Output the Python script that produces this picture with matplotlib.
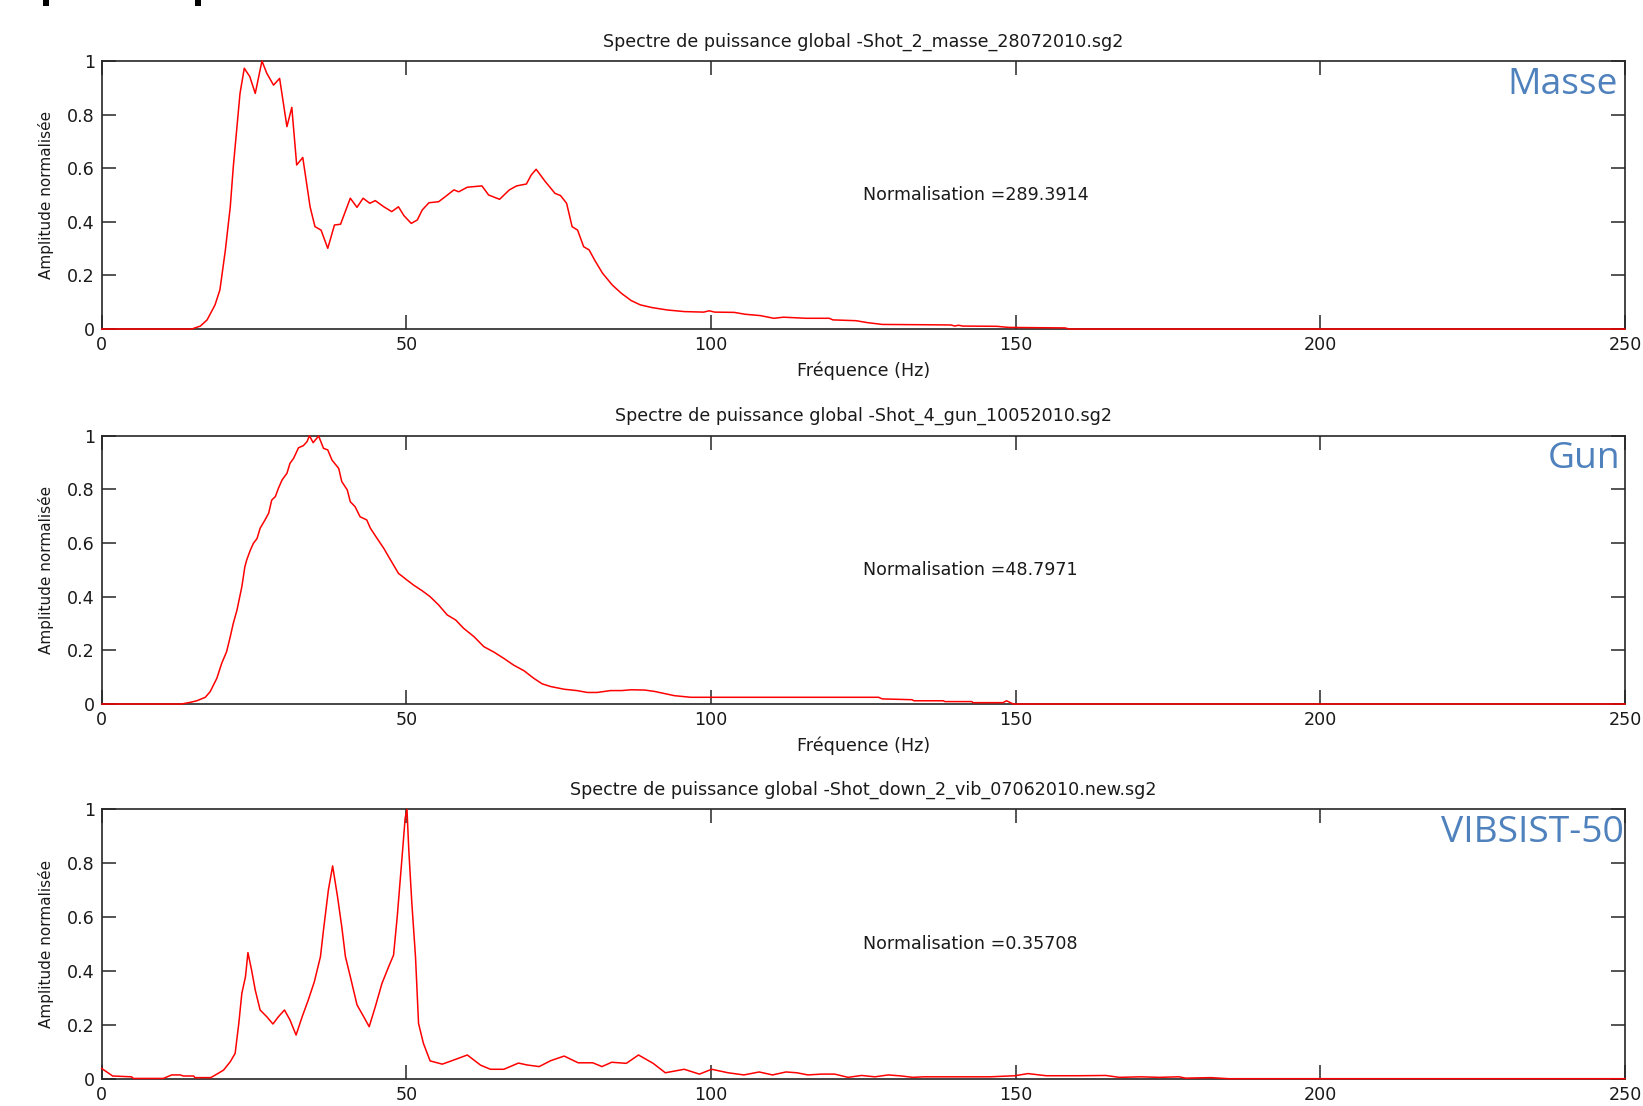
import matplotlib
matplotlib.use("Agg")
import matplotlib.pyplot as plt
from matplotlib.patches import Rectangle

# ---------------- data ----------------
freq_masse = [0, 14.8, 16.2, 17.3, 18.6, 19.4, 20.3, 21.1, 21.6, 22.2, 22.7, 23.4, 24.3, 25.2, 26.3, 27.1,
              28.2, 29.2, 30.4, 31.2, 32.0, 33.0, 34.2, 35.0, 36.0, 37.1, 38.2, 39.2, 40.8, 41.9, 42.9, 44.0,
              44.9, 46.3, 47.6, 48.7, 49.6, 50.8, 51.8, 52.6, 53.7, 55.3, 56.4, 57.8, 58.6, 60.0, 62.4, 63.5,
              65.3, 66.9, 68.1, 69.7, 70.5, 71.3, 72.8, 74.4, 75.3, 76.3, 77.2, 78.1, 79.1, 80.0, 80.9, 82.2,
              83.8, 85.3, 86.9, 88.4, 90.3, 92.8, 95.6, 98.8, 99.7, 100.6, 103.8, 105.6, 108.1, 110.3, 111.9,
              115.6, 119.4, 120.0, 123.8, 125.6, 128.1, 134.4, 139.4, 140.0, 140.6, 141.3, 146.9, 148.8,
              153.1, 158.1, 158.8, 250]
amp_masse = [0, 0, 0.011, 0.034, 0.09, 0.146, 0.295, 0.456, 0.606, 0.755, 0.879, 0.973, 0.942, 0.879, 1.0, 0.954,
             0.910, 0.935, 0.755, 0.827, 0.612, 0.640, 0.456, 0.382, 0.369, 0.301, 0.388, 0.391, 0.488, 0.454, 0.488, 0.469,
             0.479, 0.456, 0.438, 0.456, 0.423, 0.394, 0.407, 0.444, 0.471, 0.475, 0.494, 0.519, 0.512, 0.529, 0.534, 0.500,
             0.484, 0.519, 0.534, 0.541, 0.575, 0.596, 0.550, 0.506, 0.498, 0.469, 0.382, 0.369, 0.307, 0.295, 0.257, 0.208,
             0.164, 0.133, 0.106, 0.090, 0.080, 0.071, 0.065, 0.063, 0.068, 0.063, 0.062, 0.055, 0.050, 0.040, 0.044,
             0.040, 0.040, 0.034, 0.031, 0.024, 0.017, 0.016, 0.015, 0.011, 0.014, 0.011, 0.010, 0.006,
             0.005, 0.004, 0.0, 0.0]

freq_gun = [0, 13.1, 14.5, 15.6, 17.0, 17.8, 18.9, 19.7, 20.5, 21.1, 21.6, 22.2, 23.0, 23.5, 23.8, 24.4, 24.9,
            25.5, 26.0, 26.8, 27.4, 27.9, 28.5, 29.0, 29.6, 30.4, 30.9, 31.5, 32.3, 33.1, 33.7, 34.1, 34.7, 35.6,
            36.4, 37.1, 37.8, 38.9, 39.4, 40.3, 40.8, 41.6, 42.4, 43.5, 44.1, 45.2, 46.3, 47.4, 48.7, 50.1, 51.2,
            52.6, 53.9, 55.3, 56.7, 58.1, 59.4, 61.1, 62.7, 64.4, 66.0, 67.6, 69.3, 70.9, 72.3, 73.7, 75.9, 78.0,
            79.7, 81.3, 83.5, 85.3, 86.9, 89.1, 90.7, 94.0, 96.7, 100.0, 114.7, 127.5, 128.1, 133.0, 133.3, 138.1,
            138.4, 142.8, 143.0, 147.9, 148.5, 149.6, 250]
amp_gun = [0, 0, 0.006, 0.012, 0.025, 0.046, 0.096, 0.152, 0.195, 0.251, 0.301, 0.350, 0.437, 0.512, 0.537, 0.574, 0.599,
           0.617, 0.655, 0.686, 0.711, 0.760, 0.773, 0.804, 0.835, 0.860, 0.897, 0.916, 0.955, 0.963, 0.978, 1.0, 0.974, 0.999,
           0.953, 0.947, 0.909, 0.878, 0.829, 0.798, 0.754, 0.735, 0.698, 0.686, 0.655, 0.617, 0.580, 0.537, 0.487, 0.462, 0.443,
           0.422, 0.400, 0.369, 0.332, 0.313, 0.282, 0.251, 0.214, 0.193, 0.170, 0.145, 0.124, 0.096, 0.075, 0.065, 0.055, 0.050,
           0.043, 0.043, 0.050, 0.050, 0.053, 0.052, 0.047, 0.031, 0.025, 0.025, 0.025, 0.025, 0.019, 0.016, 0.012, 0.012,
           0.009, 0.009, 0.005, 0.005, 0.012, 0.0, 0.0]

freq_vib = [0, 1.8, 4.9, 5.2, 10.1, 11.5, 12.9, 13.4, 15.1, 15.3, 17.9, 18.9, 20.0, 21.1, 21.9, 22.5, 23.0, 23.6,
            24.0, 24.6, 25.2, 26.0, 27.1, 28.1, 29.0, 30.0, 30.9, 31.9, 32.9, 33.9, 34.9, 35.9, 36.4, 37.2, 37.9,
            38.7, 39.4, 40.0, 40.8, 41.9, 43.0, 43.9, 44.9, 46.0, 47.1, 47.9, 48.5, 49.3, 49.8, 50.1, 50.4, 50.9,
            51.5, 52.0, 52.8, 53.9, 55.9, 58.1, 60.0, 62.2, 63.8, 66.0, 68.4, 69.8, 71.8, 73.7, 75.9, 78.2, 80.6,
            82.1, 83.7, 86.1, 88.1, 90.5, 92.5, 95.6, 98.1, 100.1, 102.8, 105.4, 107.9, 110.1, 112.3, 114.1, 115.9,
            118.1, 120.3, 122.5, 124.7, 126.9, 129.1, 131.3, 133.1, 134.9, 145.8, 149.9, 152.0, 155.0, 160.4, 164.8,
            167.0, 170.6, 173.5, 176.8, 177.9, 182.0, 185.0, 250]
amp_vib = [0.038, 0.010, 0.007, 0.001, 0.001, 0.014, 0.014, 0.010, 0.010, 0.004, 0.004, 0.017, 0.032, 0.063, 0.094, 0.205, 0.317, 0.379,
           0.468, 0.403, 0.329, 0.255, 0.230, 0.203, 0.230, 0.255, 0.218, 0.162, 0.230, 0.292, 0.360, 0.453, 0.552, 0.700, 0.790,
           0.676, 0.564, 0.453, 0.379, 0.274, 0.230, 0.193, 0.267, 0.354, 0.416, 0.459, 0.601, 0.824, 0.967, 1.0, 0.849, 0.651,
           0.453, 0.205, 0.131, 0.066, 0.054, 0.072, 0.088, 0.050, 0.035, 0.035, 0.058, 0.051, 0.045, 0.067, 0.084, 0.059, 0.059,
           0.045, 0.061, 0.057, 0.088, 0.057, 0.022, 0.035, 0.017, 0.035, 0.022, 0.014, 0.025, 0.014, 0.025, 0.022, 0.014,
           0.017, 0.017, 0.005, 0.012, 0.007, 0.014, 0.010, 0.005, 0.007, 0.007, 0.011, 0.019, 0.011, 0.011, 0.012,
           0.005, 0.007, 0.005, 0.007, 0.002, 0.004, 0.0, 0.0]

titles = ["Spectre de puissance global -Shot_2_masse_28072010.sg2",
          "Spectre de puissance global -Shot_4_gun_10052010.sg2",
          "Spectre de puissance global -Shot_down_2_vib_07062010.new.sg2"]
norm_texts = ["Normalisation =289.3914", "Normalisation =48.7971", "Normalisation =0.35708"]
source_labels = ["Masse", "Gun", "VIBSIST-50"]
x_ticks = [0, 50, 100, 150, 200, 250]
x_tick_labels = ["0", "50", "100", "150", "200", "250"]
y_ticks = [0, 0.2, 0.4, 0.6, 0.8, 1.0]
y_tick_labels = ["0", "0.2", "0.4", "0.6", "0.8", "1"]
show_xlabel = [True, True, False]

series = [(freq_masse, amp_masse), (freq_gun, amp_gun), (freq_vib, amp_vib)]

# ---------------- figure ----------------
W, H = 1643, 1106
fig = plt.figure(figsize=(W / 100, H / 100), dpi=100)
plt.rcParams['font.family'] = ['DejaVu Sans']

left = 101.7 / W
width = (1625 - 101.7) / W
panels_px = [(61, 329), (435.7, 704), (809.3, 1078.7)]
label_x = [0.995, 0.997, 0.9995]

axis_col = "#262626"
txt_col = "#1a1a1a"
fs = 12.6
blue = "#4F81BD"

for i, (top_px, bot_px) in enumerate(panels_px):
    ax = fig.add_axes([left, 1 - bot_px / H, width, (bot_px - top_px) / H])
    f, a = series[i]
    ax.plot(f, a, color="#ff0000", lw=1.1, clip_on=False, zorder=3)
    ax.set_xlim(0, 250)
    ax.set_ylim(0, 1)
    ax.set_xticks(x_ticks)
    ax.set_xticklabels(x_tick_labels)
    ax.set_yticks(y_ticks)
    ax.set_yticklabels(y_tick_labels)
    ax.tick_params(direction="in", length=10, width=1.1, color=axis_col, labelcolor=txt_col,
                   labelsize=fs, top=True, right=True, pad=5)
    ax.tick_params(axis="x", pad=5)
    for sp in ax.spines.values():
        sp.set_color(axis_col)
        sp.set_linewidth(1.2)
    ax.set_title(titles[i], fontsize=fs, color=txt_col, pad=10.5)
    ax.set_ylabel("Amplitude normalisée", fontsize=11, color=txt_col)
    ax.yaxis.set_label_coords(-0.031, 0.5)
    if show_xlabel[i]:
        ax.set_xlabel("Fréquence (Hz)", fontsize=fs, color=txt_col)
        ax.xaxis.set_label_coords(0.5, -0.12)
    ax.text(125, 0.5, norm_texts[i], fontsize=fs, color=txt_col, ha="left", va="center")
    ax.text(label_x[i], 0.912, source_labels[i], transform=ax.transAxes, fontsize=26.8,
            family="Open Sans", color=blue, ha="right", va="center")

# cropped text fragments at the very top-left of the original slide
fig.patches.append(Rectangle((43 / W, 1 - 6 / H), 6 / W, 6 / H, transform=fig.transFigure,
                             facecolor="black", edgecolor="none"))
fig.patches.append(Rectangle((195 / W, 1 - 6 / H), 6 / W, 6 / H, transform=fig.transFigure,
                             facecolor="black", edgecolor="none"))

fig.savefig("out.png", dpi=100, facecolor="white")
